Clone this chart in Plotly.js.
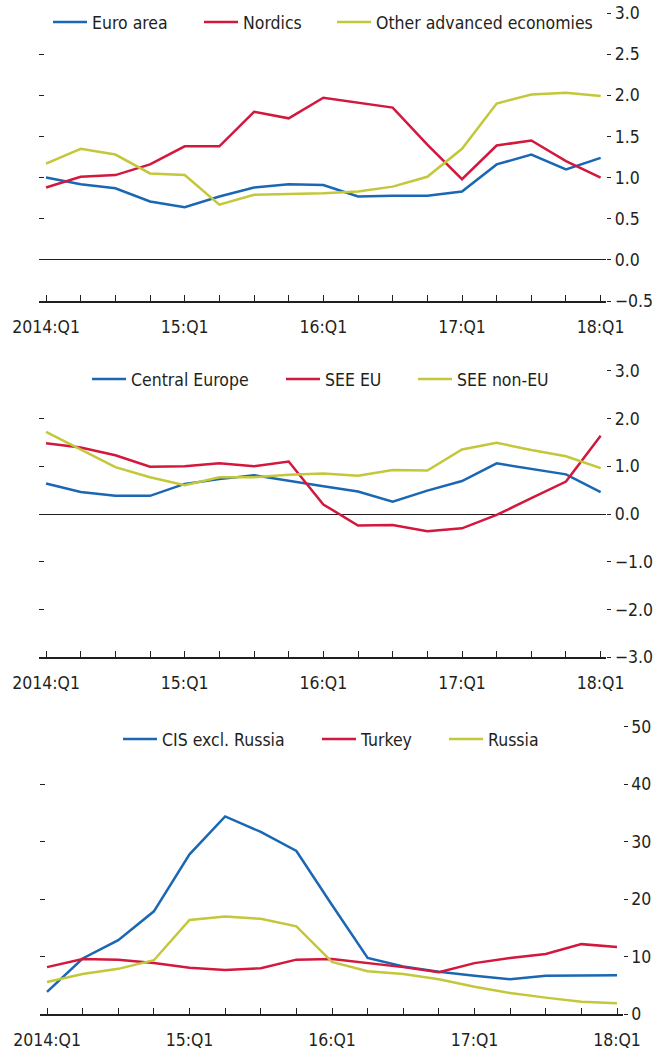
<!DOCTYPE html>
<html>
<head>
<meta charset="utf-8">
<script src="https://cdn.plot.ly/plotly-3.0.1.min.js"></script>
<style>html,body{margin:0;padding:0;background:#fff;}#chart{width:664px;height:1051px;}</style>
</head>
<body>
<div id="chart"></div>
<script>
// ---------- data ----------
const quarters = ["2014:Q1","14:Q2","14:Q3","14:Q4","15:Q1","15:Q2","15:Q3","15:Q4","16:Q1","16:Q2","16:Q3","16:Q4","17:Q1","17:Q2","17:Q3","17:Q4","18:Q1"];
const tickLabels = ["2014:Q1","","","","15:Q1","","","","16:Q1","","","","17:Q1","","","","18:Q1"];

// Panel 1
const euroArea = [1.00,0.92,0.87,0.71,0.64,0.77,0.88,0.92,0.91,0.77,0.78,0.78,0.83,1.16,1.28,1.10,1.24];
const nordics  = [0.88,1.01,1.03,1.16,1.38,1.38,1.80,1.72,1.97,1.91,1.85,1.40,0.98,1.39,1.45,1.20,1.00];
const otherAdv = [1.17,1.35,1.28,1.05,1.03,0.67,0.79,0.80,0.81,0.83,0.89,1.01,1.35,1.90,2.01,2.03,1.99];
// Panel 2
const centralEurope = [0.64,0.46,0.38,0.38,0.63,0.73,0.81,0.69,0.58,0.47,0.26,0.49,0.69,1.06,0.94,0.83,0.46];
const seeEU         = [1.48,1.39,1.23,0.99,1.00,1.06,1.00,1.10,0.20,-0.24,-0.23,-0.36,-0.30,-0.02,0.33,0.68,1.64];
const seeNonEU      = [1.72,1.35,0.98,0.77,0.60,0.77,0.77,0.82,0.85,0.80,0.92,0.91,1.35,1.49,1.34,1.21,0.96];
// Panel 3
const cisExRussia = [3.9,9.7,12.9,17.9,27.8,34.4,31.7,28.4,19.0,9.8,8.3,7.4,6.7,6.1,6.7,6.8,6.8];
const turkey      = [8.2,9.6,9.5,8.9,8.1,7.7,8.0,9.5,9.6,8.9,8.2,7.3,8.9,9.8,10.5,12.2,11.7];
const russia      = [5.6,7.0,7.9,9.4,16.4,17.0,16.6,15.3,9.1,7.5,7.0,6.1,4.8,3.7,2.9,2.2,1.9];

const names1 = ["Euro area","Nordics","Other advanced economies"];
const names2 = ["Central Europe","SEE EU","SEE non-EU"];
const names3 = ["CIS excl. Russia","Turkey","Russia"];

const yTicks1 = [-0.5,0,0.5,1,1.5,2,2.5,3];
const yTicks2 = [-3,-2,-1,0,1,2,3];
const yTicks3 = [0,10,20,30,40,50];

// ---------- styling ----------
const W = 664, H = 1051;
const BLUE = "#1a68b3", RED = "#d3173d", YEL = "#c3c73a";
const TXT = "#231f20";
const FONT = "DejaVu Sans Condensed, sans-serif";
const FS = 17.5;
const colors = [BLUE, RED, YEL];

const idx = quarters.map((q,i)=>i);

// legend item positions in px (line start x, center y)
const legendPos = [
  [[53,22],[204,22],[337,22]],
  [[92,379],[286,379],[418,379]],
  [[123,739],[322,739],[449,739]]
];

const panels = [
  {series:[euroArea,nordics,otherAdv], names:names1, yt:yTicks1, yr:[-0.5,3], fmt:".1f", xd:[39.1,606.2], yd:[13,301]},
  {series:[centralEurope,seeEU,seeNonEU], names:names2, yt:yTicks2, yr:[-3,3], fmt:".1f", xd:[39.1,606.2], yd:[370.7,657.3]},
  {series:[cisExRussia,turkey,russia], names:names3, yt:yTicks3, yr:[0,50], fmt:"d", xd:[39.9,622.7], yd:[726.7,1014.3]}
];

const traces = [];
const layout = {
  width: W, height: H,
  margin: {l:0,r:0,t:0,b:0},
  paper_bgcolor: "#fff", plot_bgcolor: "rgba(0,0,0,0)",
  font: {family: FONT, size: FS, color: TXT},
  showlegend: true
};

let legendCount = 0;
panels.forEach((p, pi) => {
  const n = pi + 1;
  const xa = "x" + (n===1?"":n), ya = "y" + (n===1?"":n);
  p.series.forEach((s, si) => {
    legendCount++;
    const lgName = "legend" + (legendCount===1?"":legendCount);
    traces.push({
      type: "scatter", mode: "lines",
      x: idx, y: s, name: p.names[si],
      xaxis: xa, yaxis: ya,
      line: {color: colors[si], width: 2.5},
      legend: lgName, hoverinfo: "skip"
    });
    const [lx, ly] = legendPos[pi][si];
    layout[lgName] = {
      x: (lx - 5) / W, xanchor: "left",
      y: 1 - ly / H, yanchor: "middle",
      orientation: "h", bgcolor: "rgba(0,0,0,0)", borderwidth: 0,
      itemwidth: 34,
      font: {family: FONT, size: FS, color: TXT},
      itemclick: false, itemdoubleclick: false
    };
  });
  const xk = "xaxis" + (n===1?"":n), yk = "yaxis" + (n===1?"":n);
  layout[xk] = {
    domain: [p.xd[0]/W, p.xd[1]/W], anchor: ya,
    range: [-0.2, 16.16], tickmode: "array", tickvals: idx, ticktext: tickLabels,
    ticks: "inside", ticklen: 6, tickwidth: 1, tickcolor: TXT,
    showline: true, linecolor: TXT, linewidth: 1.5,
    showgrid: false, zeroline: false, fixedrange: true,
    tickfont: {family: FONT, size: FS, color: TXT}, ticklabelstandoff: 9
  };
  layout[yk] = {
    domain: [1 - p.yd[1]/H, 1 - p.yd[0]/H], anchor: xa, side: "right",
    range: p.yr, tickmode: "array", tickvals: p.yt, tickformat: p.fmt,
    ticks: "outside", ticklen: 4, tickwidth: 1, tickcolor: TXT,
    showline: false, showgrid: false,
    zeroline: true, zerolinecolor: TXT, zerolinewidth: 1, fixedrange: true,
    tickfont: {family: FONT, size: FS, color: TXT}
  };
  // left-hand tick marks without labels
  const lk = "yaxis" + (n + 3), lref = "y" + (n + 3);
  layout[lk] = {
    overlaying: ya, anchor: xa, side: "left", matches: ya,
    range: p.yr, tickmode: "array", tickvals: p.yt.filter(v => v !== p.yr[0]),
    ticks: "inside", ticklen: 5, tickwidth: 1, tickcolor: TXT,
    showticklabels: false, showline: false, showgrid: false, zeroline: false, fixedrange: true
  };
  traces.push({type:"scatter", mode:"lines", x:[null], y:[null], xaxis: xa, yaxis: lref, showlegend:false, hoverinfo:"skip"});
});

Plotly.newPlot("chart", traces, layout, {staticPlot: true, displayModeBar: false});
</script>
</body>
</html>
